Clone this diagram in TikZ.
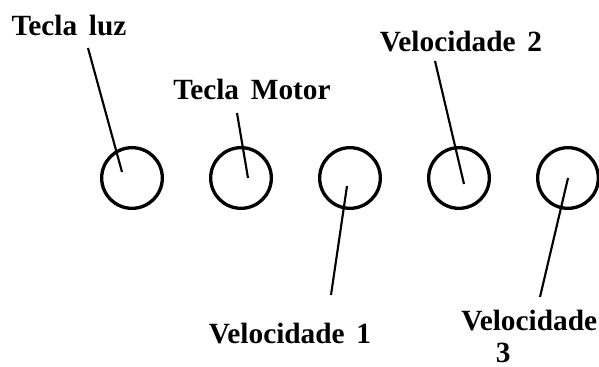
\documentclass[tikz,border=0pt]{standalone}
\usepackage{fontspec}
\setmainfont{Liberation Serif}
\usepackage{tikz}
\usetikzlibrary{positioning}

\newcommand{\fonterotulo}{\bfseries\fontsize{22}{24}\selectfont}
\newcommand{\esp}{\hspace{0.4em}}

\begin{document}
\begin{tikzpicture}[
    x=0.75pt, y=-0.75pt,
    botao/.style={
        circle,
        draw,
        line width=2.5pt,
        inner sep=0pt,
        minimum size=45.5pt
    },
    rotulo/.style={
        inner sep=0pt,
        font=\fonterotulo
    },
    haste/.style={line width=1.6pt}
]
\useasboundingbox (0,0) rectangle (599,367);

% botoes
\foreach \i in {1,...,5}
    \node[botao] (b\i) at ({23+109*\i},178) {};

% rotulos
\node[rotulo, anchor=base] (luz) at (69,36) {Tecla\esp luz};
\node[rotulo, anchor=base] (motor) at (252,100) {Tecla\esp Motor};
\node[rotulo, anchor=base] (vel2) at (461,52) {Velocidade\esp 2};
\node[rotulo, anchor=base] (vel1) at (290,343) {Velocidade\esp 1};
\node[rotulo, anchor=base west, align=left] (vel3) at (461,362)
{Velocidade\\\hspace*{26pt}3};

% pontas dentro dos botoes
\coordinate (p1) at (122,172);
\coordinate (p2) at (248,178);
\coordinate (p3) at (347,186);
\coordinate (p4) at (464,184);
\coordinate (p5) at (568,178);

\draw[haste] ([shift={(19,12)}]luz.base) -- (p1);
\draw[haste] ([shift={(-15,13)}]motor.base) -- (p2);
\draw[haste] ([shift={(41,-48)}]vel1.base) -- (p3);
\draw[haste] ([shift={(-26,9)}]vel2.base) -- (p4);
\draw[haste] ([shift={(79,-65)}]vel3.base west) -- (p5);

\end{tikzpicture}
\end{document}
